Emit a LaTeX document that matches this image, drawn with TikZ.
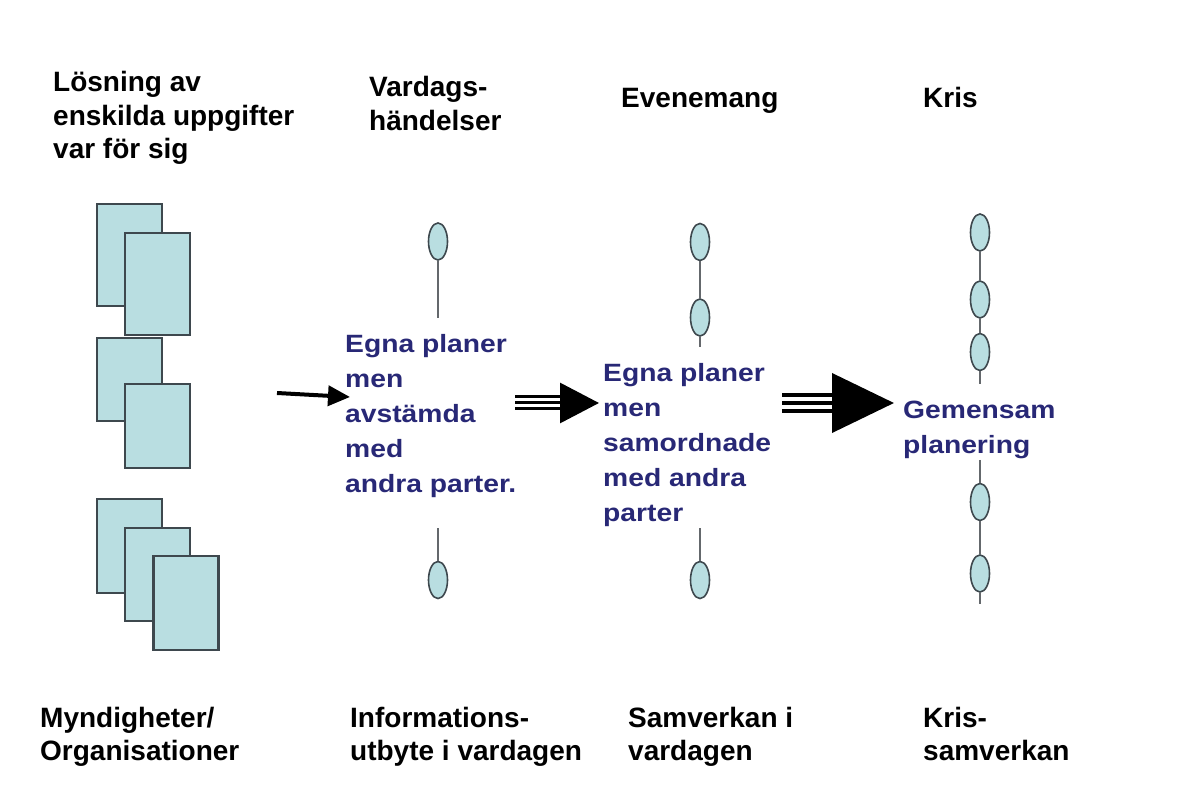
\documentclass[tikz,border=0pt]{standalone}
\usepackage{fontspec}
\setmainfont{Liberation Sans}
\newfontfamily\planfont[FakeStretch=1.13]{Liberation Sans}
\usetikzlibrary{arrows.meta,shapes.geometric}
\definecolor{paper}{RGB}{185,222,225}
\definecolor{edge}{RGB}{62,72,78}
\definecolor{navy}{RGB}{40,40,118}
\definecolor{stemgrey}{RGB}{100,104,108}
\newcommand{\txtlines}[1]{\begin{tabular}[t]{@{}l@{}}#1\end{tabular}}

\begin{document}
\begin{tikzpicture}[x=1pt,y=-1pt,
  heading/.style={anchor=base west, inner sep=0pt,
    font=\fontsize{28}{33.5}\selectfont\bfseries},
  plan/.style={anchor=base west, inner sep=0pt, text=navy,
    font=\planfont\fontsize{25}{35}\selectfont\bfseries},
  sheet/.style={draw=edge, line width=2.2pt, fill=paper, rectangle,
    inner sep=0pt, minimum width=65pt},
  party/.style={draw=edge, line width=1.6pt, fill=paper, ellipse,
    minimum width=19pt, minimum height=37pt, inner sep=0pt},
  stemline/.style={draw=stemgrey, line width=1.6pt},
  bar/.style={line width=3pt, black},
  heavybar/.style={line width=4pt, black}
]
\useasboundingbox[fill=white] (0,0) rectangle (1200,791);

% --- column headings
\node[heading] (h1) at (53,92) {\txtlines{Lösning av\\enskilda uppgifter\\var för sig}};
\node[heading] (h2) at (369,97) {\txtlines{Vardags-\\händelser}};
\node[heading] (h3) at (621,108) {Evenemang};
\node[heading] (h4) at (923,108) {Kris};

% --- bottom labels
\node[heading] (f1) at (40,727) {\txtlines{Myndigheter/\\Organisationer}};
\node[heading] (f2) at (350,727) {\txtlines{Informations-\\utbyte i vardagen}};
\node[heading] (f3) at (628,727) {\txtlines{Samverkan i\\vardagen}};
\node[heading] (f4) at (923,727) {\txtlines{Kris-\\samverkan}};

% --- separate documents of each organisation
\node[sheet, minimum height=102pt] (r1) at (129.5,255) {};
\node[sheet, minimum height=102pt] (r2) at (157.5,284) {};
\node[sheet, minimum height=83pt]  (r3) at (129.5,379.5) {};
\node[sheet, minimum height=84pt]  (r4) at (157.5,426) {};
\node[sheet, minimum height=94pt]  (r5) at (129.5,546) {};
\node[sheet, minimum height=93pt]  (r6) at (157.5,574.5) {};
\node[sheet, minimum height=94pt]  (r7) at (186,603) {};

% --- everyday events: two parties
\node[party] (v1) at (438,241.5) {};
\node[party] (v2) at (438,580) {};
\coordinate (v1end) at (438,318);
\coordinate (v2end) at (438,528);
\draw[stemline] (v1.south) -- (v1end);
\draw[stemline] (v2end) -- (v2.north);

% --- events: three parties
\node[party] (e1) at (700,242) {};
\node[party] (e2) at (700,317.5) {};
\node[party] (e3) at (700,580) {};
\coordinate (e2end) at (700,347);
\coordinate (e3end) at (700,528);
\draw[stemline] (e1.south) -- (e2.north);
\draw[stemline] (e2.south) -- (e2end);
\draw[stemline] (e3end) -- (e3.north);

% --- crisis: five parties
\node[party] (k1) at (980,232.5) {};
\node[party] (k2) at (980,299.5) {};
\node[party] (k3) at (980,352) {};
\node[party] (k4) at (980,502) {};
\node[party] (k5) at (980,573.5) {};
\coordinate (k3end) at (980,384);
\coordinate (k4end) at (980,460);
\coordinate (k5end) at (980,604);
\draw[stemline] (k1.south) -- (k2.north);
\draw[stemline] (k2.south) -- (k3.north);
\draw[stemline] (k3.south) -- (k3end);
\draw[stemline] (k4end) -- (k4.north);
\draw[stemline] (k4.south) -- (k5.north);
\draw[stemline] (k5.south) -- (k5end);

% --- planning texts
\node[plan] (p1) at (345,353) {\txtlines{Egna planer\\men\\avstämda\\med\\andra parter.}};
\node[plan] (p2) at (603,382) {\txtlines{Egna planer\\men\\samordnade\\med andra\\parter}};
\node[plan] (p3) at (903,419) {\txtlines{Gemensam\\planering}};

% --- arrows of growing strength
\coordinate (a1s) at (277,393);
\coordinate (a1e) at (350,397);
\draw[line width=4pt, -{Triangle[length=22pt,width=20pt]}] (a1s) -- (a1e);

\coordinate (a2s) at (515,403);
\coordinate (a2e) at (599,403);
\draw[bar, -{Triangle[length=39pt,width=40pt]}] (a2s) -- (a2e);
\draw[bar] ([yshift=6pt]a2s) -- ([yshift=6pt,xshift=-38pt]a2e);
\draw[bar] ([yshift=-6pt]a2s) -- ([yshift=-6pt,xshift=-38pt]a2e);

\coordinate (a3s) at (782,403);
\coordinate (a3e) at (894,403);
\draw[heavybar, -{Triangle[length=62pt,width=59pt]}] (a3s) -- (a3e);
\draw[heavybar] ([yshift=8pt]a3s) -- ([yshift=8pt,xshift=-61pt]a3e);
\draw[heavybar] ([yshift=-8pt]a3s) -- ([yshift=-8pt,xshift=-61pt]a3e);
\end{tikzpicture}
\end{document}
